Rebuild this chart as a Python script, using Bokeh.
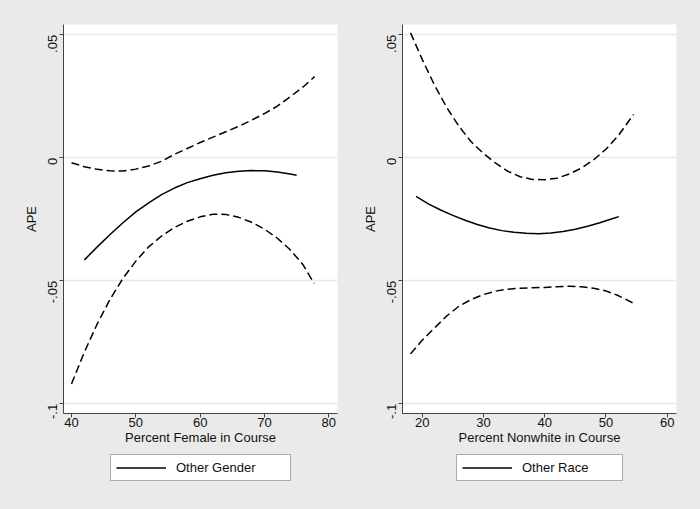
from bokeh.plotting import figure
from bokeh.layouts import row, column
from bokeh.models import Range1d, FixedTicker, Legend, LegendItem
from bokeh.embed import file_html
from bokeh.resources import INLINE
import math

# ---------------- data ----------------
# Left panel: Percent Female in Course
g_x_mid = [42, 44, 46, 48, 50, 52, 54, 56, 58, 60, 62, 64, 66, 68, 70, 72, 74, 75]
g_y_mid = [-0.0415, -0.0362, -0.0312, -0.0264, -0.0220, -0.0183, -0.0150, -0.0123, -0.0101,
           -0.0085, -0.0071, -0.0061, -0.0055, -0.0052, -0.0053, -0.0058, -0.0066, -0.0071]
g_x_up = [40, 42, 44, 46, 48, 50, 52, 54, 56, 58, 60, 62, 64, 66, 68, 70, 72, 74, 76, 77.8]
g_y_up = [-0.0020, -0.0036, -0.0047, -0.0053, -0.0054, -0.0046, -0.0033, -0.0014, 0.0014, 0.0038,
          0.0062, 0.0084, 0.0106, 0.0128, 0.0153, 0.0180, 0.0210, 0.0248, 0.0288, 0.0330]
g_x_lo = [40, 42, 44, 46, 48, 50, 52, 54, 56, 58, 60, 62, 64, 66, 68, 70, 72, 74, 76, 77.7]
g_y_lo = [-0.0919, -0.0790, -0.0675, -0.0575, -0.0490, -0.0420, -0.0362, -0.0318, -0.0283, -0.0258,
          -0.0240, -0.0229, -0.0230, -0.0242, -0.0262, -0.0290, -0.0327, -0.0374, -0.0435, -0.0510]

# Right panel: Percent Nonwhite in Course
r_x_mid = [19, 21, 23, 25, 27, 29, 31, 33, 35, 37, 39, 41, 43, 45, 47, 49, 51, 52.1]
r_y_mid = [-0.0157, -0.0187, -0.0212, -0.0234, -0.0254, -0.0271, -0.0285, -0.0296, -0.0303,
           -0.0307, -0.0309, -0.0306, -0.0300, -0.0290, -0.0278, -0.0264, -0.0248, -0.0239]
r_x_up = [18.1, 20, 22, 24, 26, 28, 30, 32, 34, 36, 38, 40, 42, 44, 46, 48, 50, 52, 54.5]
r_y_up = [0.0508, 0.0400, 0.0296, 0.0205, 0.0128, 0.0065, 0.0018, -0.0022, -0.0055, -0.0077,
          -0.0088, -0.0089, -0.0083, -0.0066, -0.0042, -0.0008, 0.0035, 0.0090, 0.0176]
r_x_lo = [18.1, 20, 22, 24, 26, 28, 30, 32, 34, 36, 38, 40, 42, 44, 46, 48, 50, 52, 54.5]
r_y_lo = [-0.0797, -0.0742, -0.0692, -0.0643, -0.0603, -0.0576, -0.0556, -0.0542, -0.0534, -0.0530,
          -0.0528, -0.0527, -0.0524, -0.0522, -0.0524, -0.0530, -0.0541, -0.0560, -0.0591]

y_ticks = [-0.1, -0.05, 0, 0.05]
y_tick_labels = ["-.1", "-.05", "0", ".05"]
g_x_ticks = [40, 50, 60, 70, 80]
r_x_ticks = [20, 30, 40, 50, 60]

FONT = "Liberation Sans"
BG = "#EAEAEA"
TXT = "#111111"
AX = "#444444"


def make_panel(xs_mid, ys_mid, xs_up, ys_up, xs_lo, ys_lo, x_range, x_ticks,
               x_label, legend_label, border_left, border_right, leg_x, leg_lw):
    p = figure(width=350, height=450, output_backend="svg", toolbar_location=None,
               x_range=Range1d(*x_range), y_range=Range1d(-0.10394, 0.05419),
               min_border_left=border_left, min_border_right=border_right,
               min_border_top=24, min_border_bottom=37)
    p.border_fill_color = BG
    p.background_fill_color = "white"
    p.outline_line_color = None

    p.line(xs_mid, ys_mid, line_color="black", line_width=1.5)
    p.line(xs_up, ys_up, line_color="black", line_width=1.5, line_dash="8 4")
    p.line(xs_lo, ys_lo, line_color="black", line_width=1.5, line_dash="8 4")

    p.xgrid.visible = False
    p.ygrid.grid_line_color = "#E8E8E8"
    p.ygrid.grid_line_width = 1.5
    p.ygrid.ticker = FixedTicker(ticks=y_ticks)

    xa = p.xaxis[0]
    xa.ticker = FixedTicker(ticks=x_ticks)
    xa.axis_label = x_label
    ya = p.yaxis[0]
    ya.ticker = FixedTicker(ticks=y_ticks)
    ya.major_label_overrides = dict(zip(y_ticks, y_tick_labels))
    ya.major_label_orientation = math.pi / 2
    ya.axis_label = "APE"
    for ax in (xa, ya):
        ax.axis_line_color = AX
        ax.major_tick_line_color = AX
        ax.major_tick_out = 4
        ax.major_tick_in = 0
        ax.minor_tick_line_color = None
        ax.major_label_text_font = FONT
        ax.major_label_text_font_size = "13px"
        ax.major_label_text_color = TXT
        ax.axis_label_text_font = FONT
        ax.axis_label_text_font_size = "13px"
        ax.axis_label_text_font_style = "normal"
        ax.axis_label_text_color = TXT
    xa.major_label_standoff = 0
    xa.axis_label_standoff = 0
    ya.major_label_standoff = 7
    ya.axis_label_standoff = 2

    # legend strip below the panel (its frame is aligned with the panel's frame)
    lf = figure(width=350, height=59, output_backend="svg", toolbar_location=None,
                x_range=Range1d(0, 1), y_range=Range1d(0, 1),
                min_border_left=0, min_border_right=0, min_border_top=0, min_border_bottom=0)
    lf.axis.visible = False
    lf.grid.visible = False
    lf.outline_line_color = None
    lf.background_fill_color = BG
    lf.border_fill_color = BG
    # same series as the solid curve; lies outside this strip's ranges, only feeds the legend key
    r_leg = lf.line(xs_mid, ys_mid, line_color="black", line_width=1.5)
    leg = Legend(items=[LegendItem(label=legend_label, renderers=[r_leg])],
                 location=(leg_x, 28), orientation="horizontal")
    leg.border_line_color = "#5a5a5a"
    leg.border_line_width = 1
    leg.background_fill_color = "white"
    leg.background_fill_alpha = 1
    leg.label_text_font = FONT
    leg.label_text_font_size = "13px"
    leg.label_text_color = TXT
    leg.glyph_width = 50
    leg.glyph_height = 15
    leg.label_height = 15
    leg.label_width = leg_lw
    leg.label_standoff = 10
    leg.padding = 5
    leg.spacing = 0
    leg.margin = 0
    lf.add_layout(leg, "center")
    return column(p, lf, spacing=0, styles={"background-color": BG})


c1 = make_panel(g_x_mid, g_y_mid, g_x_up, g_y_up, g_x_lo, g_y_lo, (38.756, 81.35), g_x_ticks,
                "Percent Female in Course", "Other Gender", 63, 13, 47, 109)
c2 = make_panel(r_x_mid, r_y_mid, r_x_up, r_y_up, r_x_lo, r_y_lo, (16.784, 61.52), r_x_ticks,
                "Percent Nonwhite in Course", "Other Race", 52, 24, 54, 95)

layout = row(c1, c2, spacing=0, styles={"background-color": BG})
open("out.html", "w").write(file_html(layout, INLINE))
